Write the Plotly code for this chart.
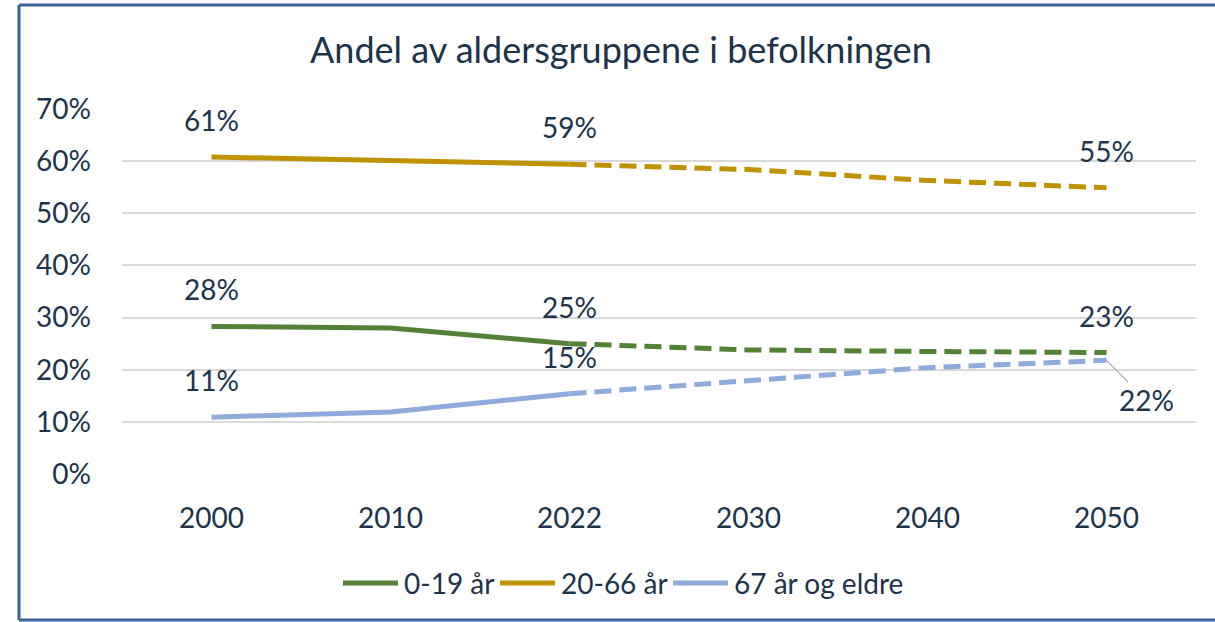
import plotly.graph_objects as go

YEARS = ["2000", "2010", "2022", "2030", "2040", "2050"]
SERIES = ["0-19 år", "20-66 år", "67 år og eldre"]
YOUNG = [28.3, 28.0, 25.0, 23.8, 23.5, 23.3]
WORKING = [60.8, 60.0, 59.4, 58.4, 56.3, 54.9]
OLD = [10.9, 11.9, 15.4, 17.9, 20.4, 21.8]
LABELED = [0, 2, 5]

COLORS = ["#548235", "#C09200", "#8FAADC"]
TEXT = "#1D3349"
FONT = "Lato, Open Sans, sans-serif"

W, H = 1215, 622
L, R, T, B = 122, 19, 109, 148
PW, PH = W - L - R, H - T - B


def px2x(px):
    return (px - L) / PW


def px2y(py):
    return (H - B - py) / PH


fig = go.Figure()
for name, vals, col in zip(SERIES, [YOUNG, WORKING, OLD], COLORS):
    # historical part solid, projection dashed
    fig.add_trace(go.Scatter(x=YEARS[:3], y=vals[:3], name=name, mode="lines",
                             line=dict(color=col, width=5), showlegend=False))
    fig.add_trace(go.Scatter(x=YEARS[2:], y=vals[2:], name=name, mode="lines",
                             line=dict(color=col, width=5, dash="17px,8px"),
                             showlegend=False))

# data labels above points (last blue one gets a leader line)
for vals, is_old in [(YOUNG, False), (WORKING, False), (OLD, True)]:
    for i in LABELED:
        txt = f"{round(vals[i])}%"
        if is_old and i == 5:
            fig.add_annotation(x=i, y=vals[i], text=txt, showarrow=True,
                               arrowhead=0, arrowwidth=1.2, arrowcolor="#A6A6A6",
                               ax=40, ay=40, standoff=0,
                               font=dict(size=28, color=TEXT, family=FONT))
        else:
            fig.add_annotation(x=i, y=vals[i], text=txt, showarrow=False,
                               yshift=37, font=dict(size=28, color=TEXT, family=FONT))

# legend drawn by hand so the key lines get the long Excel look
LEG_LINES = [(343, 398), (500, 555), (673, 728)]
LEG_Y = 583
for name, col, (x0, x1) in zip(SERIES, COLORS, LEG_LINES):
    fig.add_shape(type="line", xref="paper", yref="paper",
                  x0=px2x(x0), x1=px2x(x1), y0=px2y(LEG_Y), y1=px2y(LEG_Y),
                  line=dict(color=col, width=5))
    fig.add_annotation(xref="paper", yref="paper", x=px2x(x1 + 4), y=px2y(LEG_Y),
                       xanchor="left", yanchor="middle", text=name, showarrow=False,
                       font=dict(size=28, color=TEXT, family=FONT))

# outer frame: left, top and bottom edges (right side runs off the picture)
frame = dict(color="#3A6298", width=3)
fig.add_shape(type="line", xref="paper", yref="paper",
              x0=px2x(19), x1=px2x(19), y0=px2y(620), y1=px2y(5), line=frame)
fig.add_shape(type="line", xref="paper", yref="paper",
              x0=px2x(19), x1=px2x(W), y0=px2y(5), y1=px2y(5), line=frame)
fig.add_shape(type="line", xref="paper", yref="paper",
              x0=px2x(19), x1=px2x(W), y0=px2y(620), y1=px2y(620), line=frame)

fig.update_layout(
    width=W, height=H,
    margin=dict(l=L, r=R, t=T, b=B),
    paper_bgcolor="white", plot_bgcolor="white",
    font=dict(family=FONT, color=TEXT, size=28),
    title=dict(text="Andel av aldersgruppene i befolkningen", xref="container",
               x=0.511, xanchor="center", yref="container", y=1 - 50 / H,
               yanchor="middle", font=dict(size=36, color=TEXT, family=FONT)),
    showlegend=False,
    xaxis=dict(type="category", range=[-0.5, 5.5], showgrid=False, showline=False,
               zeroline=False, ticks="", ticklabelstandoff=25, automargin=False,
               tickfont=dict(size=28)),
    yaxis=dict(range=[0, 70], dtick=10, ticksuffix="%", showgrid=True,
               gridcolor="#D9D9D9", gridwidth=1.5, zeroline=False, showline=False,
               ticks="", ticklabelstandoff=30, automargin=False,
               tickfont=dict(size=28)),
)

fig.write_html("out.html", config={"displayModeBar": False},
               post_script="document.body.style.margin='0';")
